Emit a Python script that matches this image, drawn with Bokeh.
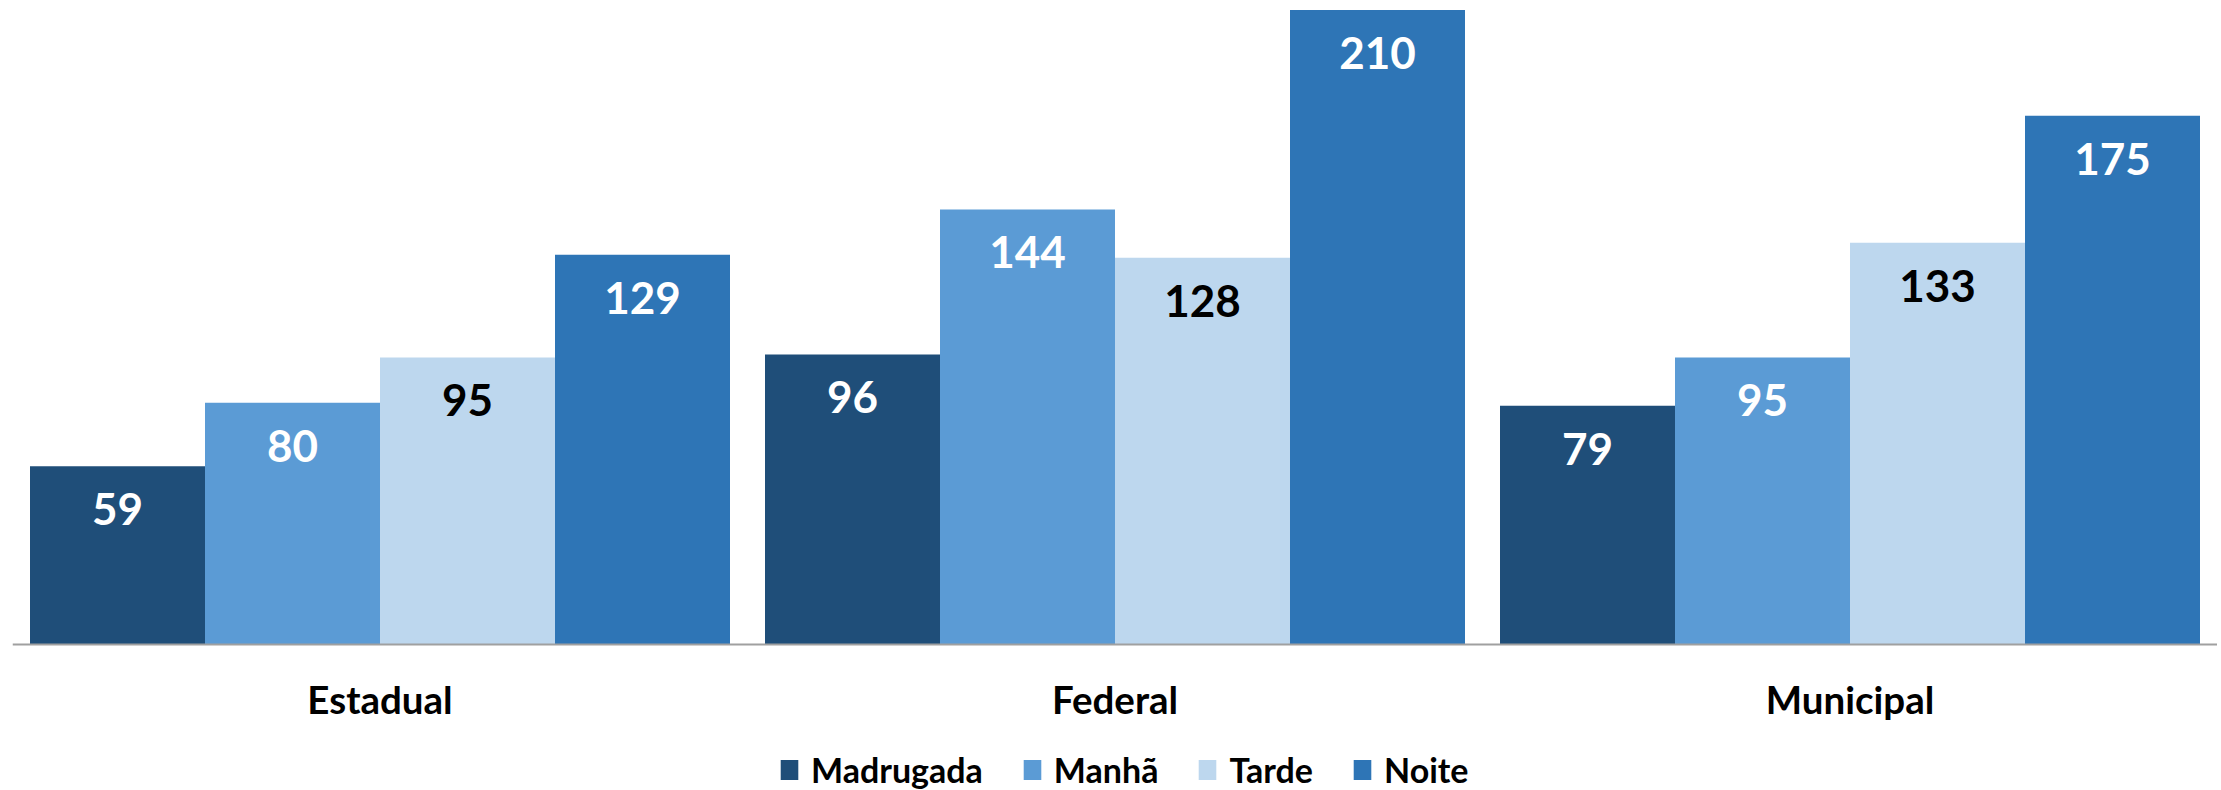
from bokeh.plotting import figure
from bokeh.models import ColumnDataSource, FactorRange, Range1d, Legend, LegendItem, Span
from bokeh.transform import dodge
from bokeh.core.properties import value
from bokeh.embed import file_html
from bokeh.resources import INLINE

categories = ["Estadual", "Federal", "Municipal"]
series_names = ["Madrugada", "Manhã", "Tarde", "Noite"]
madrugada = [59, 96, 79]
manha = [80, 144, 95]
tarde = [95, 128, 133]
noite = [129, 210, 175]

colors = ["#1F4E79", "#5B9BD5", "#BDD7EE", "#2E75B6"]
label_colors = ["white", "white", "black", "white"]

src = ColumnDataSource(dict(cat=categories, madrugada=madrugada, manha=manha, tarde=tarde, noite=noite,
                            madrugada_t=[str(v) for v in madrugada], manha_t=[str(v) for v in manha],
                            tarde_t=[str(v) for v in tarde], noite_t=[str(v) for v in noite]))
keys = ["madrugada", "manha", "tarde", "noite"]

p = figure(x_range=FactorRange(*categories, range_padding=0), y_range=Range1d(-48.32, 210.5),
           frame_width=2205, frame_height=782, output_backend="svg", toolbar_location=None,
           min_border_left=12, min_border_right=0, min_border_top=8, min_border_bottom=0)

bw = 175 / 735.0
offsets = [-1.5 * bw, -0.5 * bw, 0.5 * bw, 1.5 * bw]
items = []
for k, off, c, lc, name in zip(keys, offsets, colors, label_colors, series_names):
    r = p.vbar(x=dodge("cat", off, range=p.x_range), top=k, bottom=0, width=bw, source=src,
               fill_color=c, line_color=None)
    p.text(x=dodge("cat", off, range=p.x_range), y=k, text=k + "_t", source=src,
           text_align="center", text_baseline="middle", y_offset=43,
           text_color=lc, text_font=value("Lato"), text_font_style="bold",
           text_font_size="44px")
    items.append(LegendItem(label=name, renderers=[r]))

# category axis: baseline line and category labels
p.add_layout(Span(location=0, dimension="width", line_color="#A0A0A0", line_width=2))
p.text(x="cat", y=0, text="cat", source=src, text_align="center", text_baseline="middle",
       y_offset=54, text_color="black", text_font=value("Lato"), text_font_style="bold",
       text_font_size="38.5px")

p.xaxis.visible = False
p.yaxis.visible = False
p.xgrid.grid_line_color = None
p.ygrid.grid_line_color = None
p.outline_line_color = None

legend = Legend(items=items, orientation="horizontal", location=(766, 0),
                border_line_color=None, background_fill_alpha=0,
                glyph_width=22, glyph_height=25, label_standoff=11, spacing=38,
                label_text_font="Lato", label_text_font_style="bold",
                label_text_font_size="34px", label_text_color="black",
                padding=0, margin=0)
p.add_layout(legend)

open("out.html", "w").write(file_html(p, INLINE))
